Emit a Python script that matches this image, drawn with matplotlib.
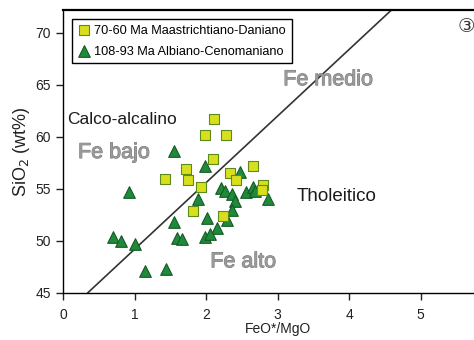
import matplotlib
matplotlib.use('Agg')
import numpy as np
import matplotlib.pyplot as plt
import matplotlib.patheffects as pe

plt.rcParams['font.family'] = ['Liberation Sans', 'DejaVu Sans']

# 70-60 Ma Maastrichtiano-Daniano (cuadrados)
maas_x = [2.11, 1.99, 2.28, 2.10, 1.72, 2.66, 2.34, 2.42, 1.42, 1.75, 1.93, 2.80, 2.78, 1.82, 2.24]
maas_y = [61.7, 60.2, 60.2, 57.9, 56.9, 57.2, 56.5, 55.9, 56.0, 55.9, 55.2, 55.4, 54.9, 52.9, 52.4]

# 108-93 Ma Albiano-Cenomaniano (triangulos)
alb_x = [1.55, 1.98, 2.48, 0.93, 2.21, 2.27, 2.37, 2.56, 2.66, 2.69, 2.87, 1.89, 2.40, 2.37,
         1.55, 2.01, 2.16, 2.29, 0.70, 0.81, 1.01, 1.59, 1.66, 1.99, 2.05, 1.15, 1.44]
alb_y = [58.65, 57.2, 56.6, 54.7, 55.1, 54.8, 54.5, 54.7, 55.2, 54.8, 54.0, 54.0, 53.8, 53.0,
         51.8, 52.2, 51.2, 52.0, 50.4, 50.0, 49.7, 50.3, 50.2, 50.4, 50.7, 47.1, 47.3]

# linea de Miyashiro: SiO2 = 42.8 + 6.4 * FeO*/MgO
line_x = np.array([0.35, 4.7])
line_y = 42.8 + 6.4 * line_x

fig = plt.figure(figsize=(4.74, 3.40), dpi=100)
ax = fig.add_axes([63/474, 47/340, 429/474, 283/340])

ax.plot(line_x, line_y, color='#333333', lw=1.2, zorder=2)

ax.scatter(alb_x, alb_y, marker='^', s=70, c='#1f8a3a', edgecolors='#145a25',
           linewidths=0.8, zorder=3, label='108-93 Ma Albiano-Cenomaniano')
ax.scatter(maas_x, maas_y, marker='s', s=50, c='#d8e01c', edgecolors='#5c8a1e',
           linewidths=0.8, zorder=4, label='70-60 Ma Maastrichtiano-Daniano')

ax.set_xlim(0, 6)
ax.set_ylim(45, 72.2)
ax.set_xticks([0, 1, 2, 3, 4, 5])
ax.set_yticks([45, 50, 55, 60, 65, 70])
ax.tick_params(labelsize=10, colors='#222222', length=5, width=1)
ax.tick_params(axis='x', pad=6)
ax.spines['right'].set_visible(False)
ax.spines['top'].set_linewidth(1.6)
for s in ['left', 'bottom']:
    ax.spines[s].set_linewidth(1.0)

ax.set_xlabel('FeO*/MgO', fontsize=10, color='#222222', labelpad=0)
ax.set_ylabel('SiO$_2$ (wt%)', fontsize=13, color='#222222', labelpad=3)

grey = dict(color='#9a9a9a', fontsize=15.5, va='center',
            path_effects=[pe.withStroke(linewidth=0.7, foreground='#7a7a7a')])
ax.text(0.06, 61.7, 'Calco-alcalino', fontsize=12.5, color='#1a1a1a', va='center')
ax.text(0.21, 58.5, 'Fe bajo', **grey)
ax.text(3.08, 65.5, 'Fe medio', **grey)
ax.text(2.06, 48.0, 'Fe alto', **grey)
ax.text(3.27, 54.3, 'Tholeitico', fontsize=13.5, color='#1a1a1a', va='center')
ax.text(5.52, 70.6, '\u2462', fontsize=14, color='#333333', va='center',
        family=['DejaVu Sans', 'Noto Sans CJK SC'])

handles, labels = ax.get_legend_handles_labels()
leg = ax.legend(handles[::-1], labels[::-1], loc='upper left',
                bbox_to_anchor=(9/429, 1 - 9/283), borderaxespad=0,
                fontsize=9.2, fancybox=False, edgecolor='black', framealpha=1,
                handletextpad=0.3, borderpad=0.45, labelspacing=0.7,
                handlelength=1.0)
leg.get_frame().set_linewidth(1.0)

plt.savefig('out.png', dpi=100)
